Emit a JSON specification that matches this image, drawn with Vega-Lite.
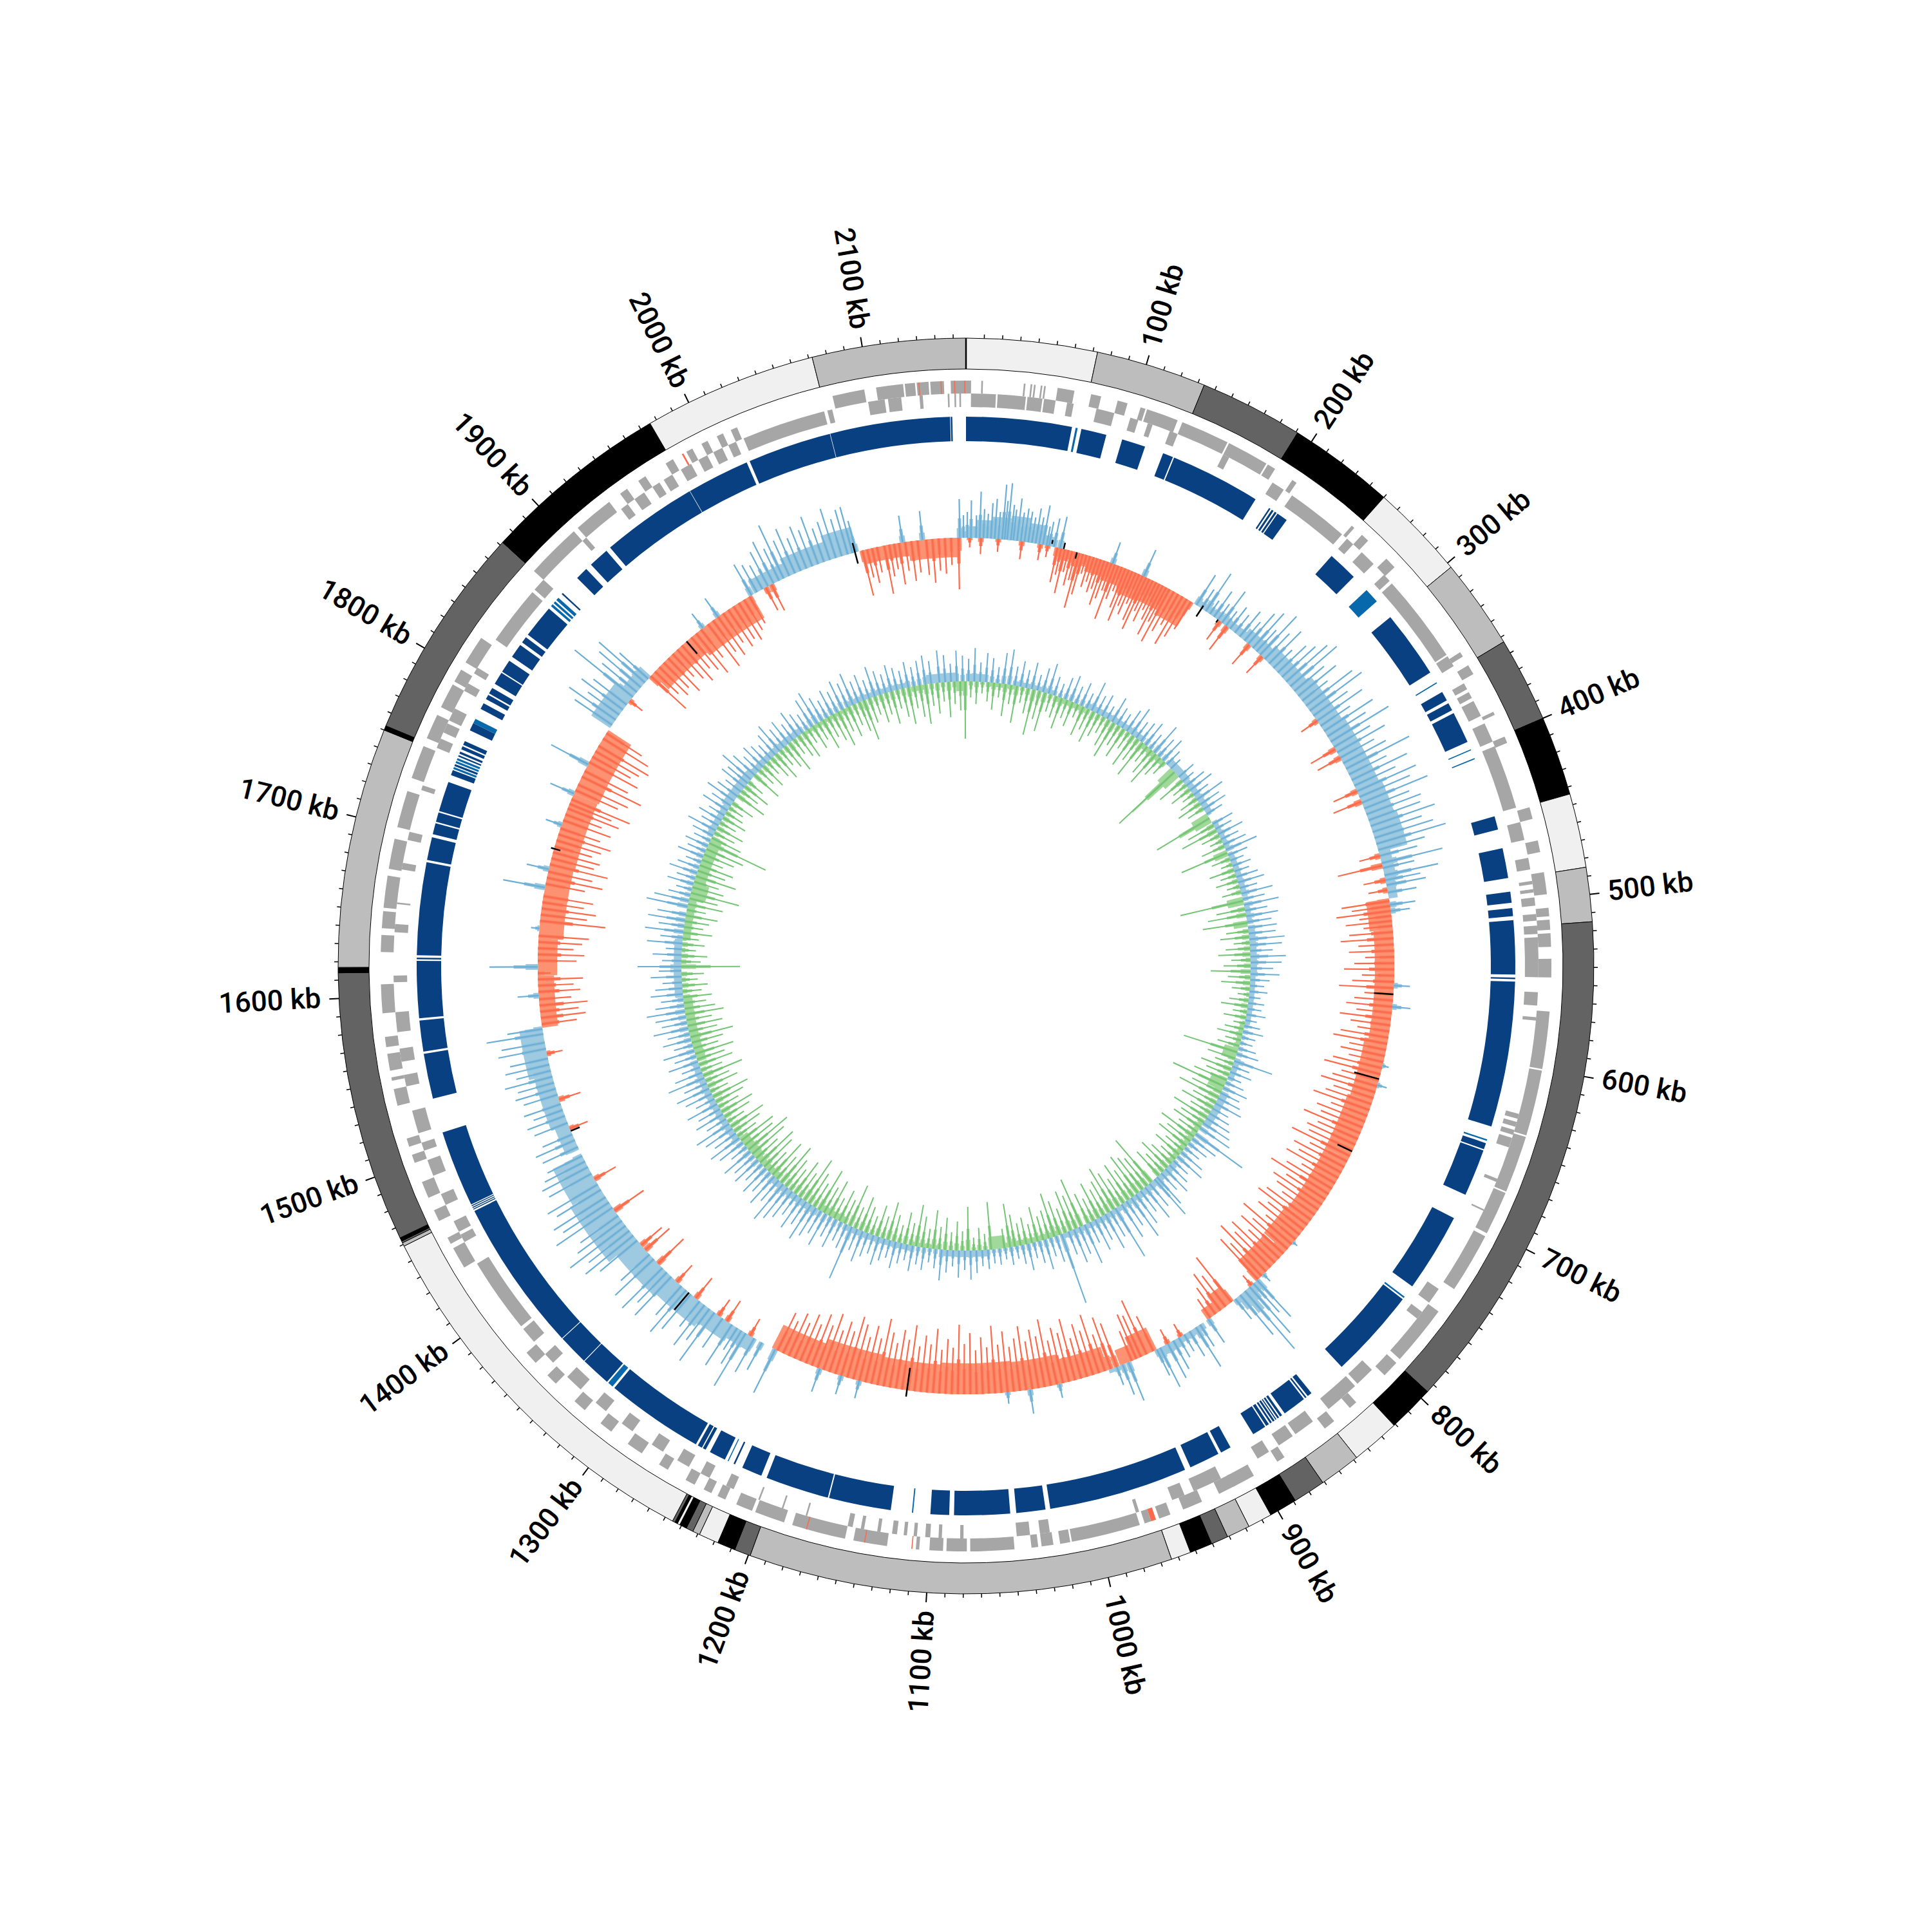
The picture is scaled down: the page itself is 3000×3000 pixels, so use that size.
{"$schema":"https://vega.github.io/schema/vega-lite/v6.json","autosize":{"type":"fit","contains":"padding"},"width":3000,"height":3000,"padding":0,"background":"white","view":{"stroke":null},
"datasets":{
"bands":[{"s":0,"e":72.5,"b":"l"},{"s":72.5,"e":133.6,"b":"m"},{"s":133.6,"e":191,"b":"d"},{"s":191,"e":250,"b":"k"},{"s":250,"e":303,"b":"l"},{"s":303,"e":353,"b":"m"},{"s":353,"e":400,"b":"d"},{"s":400,"e":444,"b":"k"},{"s":444,"e":485,"b":"l"},{"s":485,"e":515,"b":"m"},{"s":515,"e":795,"b":"d"},{"s":795,"e":821,"b":"k"},{"s":821,"e":848,"b":"l"},{"s":848,"e":871,"b":"m"},{"s":871,"e":889,"b":"d"},{"s":889,"e":904.5,"b":"k"},{"s":904.5,"e":918,"b":"l"},{"s":918,"e":931,"b":"m"},{"s":931,"e":940.5,"b":"d"},{"s":940.5,"e":953,"b":"k"},{"s":953,"e":964,"b":"l"},{"s":964,"e":1199,"b":"m"},{"s":1199,"e":1208,"b":"d"},{"s":1208,"e":1218,"b":"k"},{"s":1218,"e":1229,"b":"l"},{"s":1229,"e":1233,"b":"m"},{"s":1233,"e":1237,"b":"d"},{"s":1237,"e":1241,"b":"k"},{"s":1241,"e":1242.5,"b":"l"},{"s":1242.5,"e":1244,"b":"k"},{"s":1244,"e":1245.5,"b":"d"},{"s":1245.5,"e":1459,"b":"l"},{"s":1459,"e":1461,"b":"m"},{"s":1461,"e":1462,"b":"d"},{"s":1462,"e":1464,"b":"k"},{"s":1464,"e":1614,"b":"d"},{"s":1614,"e":1617,"b":"k"},{"s":1617,"e":1750,"b":"m"},{"s":1750,"e":1752.5,"b":"k"},{"s":1752.5,"e":1872,"b":"d"},{"s":1872,"e":1976,"b":"k"},{"s":1976,"e":2072,"b":"l"},{"s":2072,"e":2157,"b":"m"}],
"zero":[{"s":0}],
"minor":[{"s":10},{"s":20},{"s":30},{"s":40},{"s":50},{"s":60},{"s":70},{"s":80},{"s":90},{"s":110},{"s":120},{"s":130},{"s":140},{"s":150},{"s":160},{"s":170},{"s":180},{"s":190},{"s":210},{"s":220},{"s":230},{"s":240},{"s":250},{"s":260},{"s":270},{"s":280},{"s":290},{"s":310},{"s":320},{"s":330},{"s":340},{"s":350},{"s":360},{"s":370},{"s":380},{"s":390},{"s":410},{"s":420},{"s":430},{"s":440},{"s":450},{"s":460},{"s":470},{"s":480},{"s":490},{"s":510},{"s":520},{"s":530},{"s":540},{"s":550},{"s":560},{"s":570},{"s":580},{"s":590},{"s":610},{"s":620},{"s":630},{"s":640},{"s":650},{"s":660},{"s":670},{"s":680},{"s":690},{"s":710},{"s":720},{"s":730},{"s":740},{"s":750},{"s":760},{"s":770},{"s":780},{"s":790},{"s":810},{"s":820},{"s":830},{"s":840},{"s":850},{"s":860},{"s":870},{"s":880},{"s":890},{"s":910},{"s":920},{"s":930},{"s":940},{"s":950},{"s":960},{"s":970},{"s":980},{"s":990},{"s":1010},{"s":1020},{"s":1030},{"s":1040},{"s":1050},{"s":1060},{"s":1070},{"s":1080},{"s":1090},{"s":1110},{"s":1120},{"s":1130},{"s":1140},{"s":1150},{"s":1160},{"s":1170},{"s":1180},{"s":1190},{"s":1210},{"s":1220},{"s":1230},{"s":1240},{"s":1250},{"s":1260},{"s":1270},{"s":1280},{"s":1290},{"s":1310},{"s":1320},{"s":1330},{"s":1340},{"s":1350},{"s":1360},{"s":1370},{"s":1380},{"s":1390},{"s":1410},{"s":1420},{"s":1430},{"s":1440},{"s":1450},{"s":1460},{"s":1470},{"s":1480},{"s":1490},{"s":1510},{"s":1520},{"s":1530},{"s":1540},{"s":1550},{"s":1560},{"s":1570},{"s":1580},{"s":1590},{"s":1610},{"s":1620},{"s":1630},{"s":1640},{"s":1650},{"s":1660},{"s":1670},{"s":1680},{"s":1690},{"s":1710},{"s":1720},{"s":1730},{"s":1740},{"s":1750},{"s":1760},{"s":1770},{"s":1780},{"s":1790},{"s":1810},{"s":1820},{"s":1830},{"s":1840},{"s":1850},{"s":1860},{"s":1870},{"s":1880},{"s":1890},{"s":1910},{"s":1920},{"s":1930},{"s":1940},{"s":1950},{"s":1960},{"s":1970},{"s":1980},{"s":1990},{"s":2010},{"s":2020},{"s":2030},{"s":2040},{"s":2050},{"s":2060},{"s":2070},{"s":2080},{"s":2090},{"s":2110},{"s":2120},{"s":2130},{"s":2140},{"s":2150}],
"labelsR":[{"s":100,"t":"100 kb"},{"s":200,"t":"200 kb"},{"s":300,"t":"300 kb"},{"s":400,"t":"400 kb"},{"s":500,"t":"500 kb"},{"s":600,"t":"600 kb"},{"s":700,"t":"700 kb"},{"s":800,"t":"800 kb"},{"s":900,"t":"900 kb"},{"s":1000,"t":"1000 kb"}],
"labelsL":[{"s":1100,"t":"1100 kb"},{"s":1200,"t":"1200 kb"},{"s":1300,"t":"1300 kb"},{"s":1400,"t":"1400 kb"},{"s":1500,"t":"1500 kb"},{"s":1600,"t":"1600 kb"},{"s":1700,"t":"1700 kb"},{"s":1800,"t":"1800 kb"},{"s":1900,"t":"1900 kb"},{"s":2000,"t":"2000 kb"},{"s":2100,"t":"2100 kb"}],
"geneO":[{"s":2104,"e":2120},{"s":2121,"e":2127},{"s":2128,"e":2135},{"s":2136,"e":2144},{"s":2148,"e":2157},{"s":0,"e":3},{"s":9,"e":10},{"s":34,"e":35},{"s":38,"e":39},{"s":40,"e":41},{"s":44,"e":45},{"s":46,"e":47},{"s":54,"e":64},{"s":74,"e":80},{"s":90,"e":96},{"s":104,"e":107},{"s":108,"e":127},{"s":130,"e":159},{"s":160,"e":185},{"s":186,"e":191},{"s":203,"e":206},{"s":247,"e":249},{"s":255,"e":260},{"s":275,"e":282},{"s":345,"e":348},{"s":354,"e":360},{"s":385,"e":387},{"s":401,"e":405},{"s":445,"e":452},{"s":465,"e":472},{"s":484,"e":497},{"s":505,"e":510},{"s":512,"e":518},{"s":520,"e":528},{"s":535,"e":546},{"s":566,"e":600},{"s":601,"e":640},{"s":641,"e":675},{"s":676,"e":702},{"s":704,"e":740},{"s":756,"e":792},{"s":795,"e":805},{"s":828,"e":833},{"s":845,"e":852},{"s":881,"e":886},{"s":902,"e":916},{"s":914,"e":925},{"s":936,"e":948},{"s":956,"e":963},{"s":968,"e":972},{"s":975,"e":1016},{"s":1017,"e":1023},{"s":1027,"e":1034},{"s":1036,"e":1040},{"s":1050,"e":1076},{"s":1078,"e":1090},{"s":1092,"e":1100},{"s":1106,"e":1108},{"s":1125,"e":1145},{"s":1150,"e":1182},{"s":1187,"e":1205},{"s":1207,"e":1217},{"s":1224,"e":1229},{"s":1233,"e":1238},{"s":1244,"e":1250},{"s":1262,"e":1268},{"s":1280,"e":1290},{"s":1302,"e":1310},{"s":1322,"e":1330},{"s":1345,"e":1352},{"s":1362,"e":1370},{"s":1432,"e":1445},{"s":1448,"e":1452},{"s":1463,"e":1470},{"s":1478,"e":1488},{"s":1500,"e":1505},{"s":1510,"e":1515},{"s":1535,"e":1545},{"s":1550,"e":1552},{"s":1556,"e":1566},{"s":1570,"e":1576},{"s":1590,"e":1607},{"s":1626,"e":1636},{"s":1640,"e":1650},{"s":1652,"e":1671},{"s":1675,"e":1693},{"s":1700,"e":1722},{"s":1730,"e":1750},{"s":1755,"e":1770},{"s":1775,"e":1790},{"s":1792,"e":1800},{"s":1805,"e":1822},{"s":1872,"e":1905},{"s":1908,"e":1932},{"s":1940,"e":1945},{"s":1953,"e":1958},{"s":1972,"e":1977},{"s":1986,"e":1990},{"s":1996,"e":2000},{"s":2006,"e":2010},{"s":2015,"e":2019},{"s":2078,"e":2097}],
"geneI":[{"s":3,"e":18},{"s":19,"e":36},{"s":37,"e":46},{"s":47,"e":54},{"s":61,"e":65},{"s":79,"e":90},{"s":100,"e":105},{"s":111,"e":114},{"s":125,"e":130},{"s":160,"e":164},{"s":194,"e":202},{"s":208,"e":246},{"s":250,"e":255},{"s":262,"e":272},{"s":281,"e":286},{"s":288,"e":342},{"s":343,"e":350},{"s":362,"e":366},{"s":368,"e":372},{"s":374,"e":384},{"s":389,"e":401},{"s":404,"e":443},{"s":452,"e":463},{"s":474,"e":481},{"s":488,"e":490},{"s":493,"e":495},{"s":498,"e":503},{"s":508,"e":512},{"s":515,"e":520},{"s":522,"e":546},{"s":555,"e":563},{"s":570,"e":572},{"s":629,"e":632},{"s":634,"e":637},{"s":639,"e":642},{"s":644,"e":650},{"s":670,"e":672},{"s":690,"e":691},{"s":745,"e":755},{"s":762,"e":767},{"s":808,"e":820},{"s":822,"e":843},{"s":855,"e":868},{"s":870,"e":880},{"s":887,"e":895},{"s":920,"e":938},{"s":944,"e":952},{"s":973,"e":975},{"s":1028,"e":1034},{"s":1040,"e":1048},{"s":1080,"e":1082},{"s":1093,"e":1095},{"s":1100,"e":1103},{"s":1108,"e":1110},{"s":1114,"e":1116},{"s":1120,"e":1123},{"s":1130,"e":1132},{"s":1140,"e":1142},{"s":1147,"e":1150},{"s":1175,"e":1176},{"s":1190,"e":1191},{"s":1205,"e":1206},{"s":1222,"e":1227},{"s":1238,"e":1244},{"s":1252,"e":1260},{"s":1270,"e":1278},{"s":1292,"e":1300},{"s":1312,"e":1320},{"s":1332,"e":1343},{"s":1355,"e":1362},{"s":1372,"e":1382},{"s":1384,"e":1430},{"s":1445,"e":1450},{"s":1452,"e":1459},{"s":1470,"e":1477},{"s":1489,"e":1499},{"s":1505,"e":1510},{"s":1516,"e":1530},{"s":1545,"e":1552},{"s":1560,"e":1568},{"s":1578,"e":1590},{"s":1608,"e":1612},{"s":1638,"e":1643},{"s":1655,"e":1656},{"s":1676,"e":1680},{"s":1694,"e":1699},{"s":1725,"e":1728},{"s":1752,"e":1758},{"s":1762,"e":1768},{"s":1770,"e":1778},{"s":1790,"e":1795},{"s":1802,"e":1806},{"s":1826,"e":1862},{"s":1864,"e":1872},{"s":1905,"e":1908},{"s":1935,"e":1940},{"s":1945,"e":1952},{"s":1958,"e":1963},{"s":1966,"e":1972},{"s":1978,"e":1985},{"s":1990,"e":1996},{"s":2000,"e":2006},{"s":2010,"e":2015},{"s":2020,"e":2071},{"s":2073,"e":2076},{"s":2098,"e":2108},{"s":2110,"e":2118},{"s":2129,"e":2131},{"s":2146,"e":2147},{"s":2150,"e":2151},{"s":2153,"e":2154}],
"geneR":[{"s":965,"e":968},{"s":2129,"e":2129.6},{"s":2142,"e":2142.6},{"s":2150,"e":2150.6},{"s":2156,"e":2156.6},{"s":1983,"e":1984},{"s":1173,"e":1173.6},{"s":1138,"e":1138.6},{"s":1110,"e":1110.6}],
"blocks":[{"s":0,"e":66.7,"c":"a"},{"s":69,"e":70.3,"c":"b"},{"s":72.7,"e":88.7,"c":"a"},{"s":99,"e":114,"c":"a"},{"s":126,"e":132.6,"c":"a"},{"s":133.4,"e":190.6,"c":"a"},{"s":200.7,"e":201.7,"c":"a"},{"s":202.7,"e":204,"c":"a"},{"s":205,"e":206.3,"c":"a"},{"s":207,"e":214,"c":"a"},{"s":250,"e":269,"c":"a"},{"s":280.5,"e":290,"c":"b"},{"s":303,"e":345.7,"c":"a"},{"s":353,"e":353.7,"c":"b"},{"s":360,"e":366,"c":"a"},{"s":368,"e":373,"c":"a"},{"s":375,"e":395,"c":"a"},{"s":400,"e":400.7,"c":"b"},{"s":406,"e":406.7,"c":"b"},{"s":444.5,"e":453,"c":"a"},{"s":465,"e":484,"c":"a"},{"s":492.6,"e":499.6,"c":"a"},{"s":503,"e":508,"c":"a"},{"s":510.5,"e":544.6,"c":"a"},{"s":546.5,"e":547.5,"c":"a"},{"s":549,"e":641,"c":"a"},{"s":649.5,"e":650.5,"c":"b"},{"s":652,"e":656,"c":"a"},{"s":656.8,"e":686.7,"c":"a"},{"s":703,"e":753,"c":"a"},{"s":761,"e":762,"c":"b"},{"s":763,"e":820,"c":"a"},{"s":845,"e":848,"c":"a"},{"s":849,"e":850,"c":"a"},{"s":851,"e":866,"c":"a"},{"s":868,"e":869.5,"c":"a"},{"s":870.3,"e":871.5,"c":"a"},{"s":872.3,"e":873,"c":"a"},{"s":873.7,"e":875,"c":"a"},{"s":875.8,"e":877,"c":"a"},{"s":878,"e":880,"c":"a"},{"s":880.8,"e":889.6,"c":"a"},{"s":906,"e":912.7,"c":"a"},{"s":914.6,"e":934,"c":"a"},{"s":937.7,"e":1025.6,"c":"a"},{"s":1028.6,"e":1047,"c":"a"},{"s":1050.8,"e":1086,"c":"a"},{"s":1089,"e":1100.8,"c":"a"},{"s":1111.6,"e":1112.4,"c":"b"},{"s":1125.7,"e":1165,"c":"a"},{"s":1165.8,"e":1206,"c":"a"},{"s":1209.6,"e":1222.5,"c":"a"},{"s":1227.5,"e":1228.5,"c":"a"},{"s":1232,"e":1232.6,"c":"b"},{"s":1234.5,"e":1245,"c":"a"},{"s":1248,"e":1250,"c":"a"},{"s":1250.7,"e":1253.6,"c":"a"},{"s":1255,"e":1317,"c":"a"},{"s":1318.5,"e":1322,"c":"b"},{"s":1323,"e":1342,"c":"a"},{"s":1342.5,"e":1361.7,"c":"a"},{"s":1362.2,"e":1459,"c":"a"},{"s":1460,"e":1460.6,"c":"a"},{"s":1461.2,"e":1461.8,"c":"a"},{"s":1462.4,"e":1463,"c":"a"},{"s":1463.6,"e":1512,"c":"a"},{"s":1534,"e":1562.6,"c":"a"},{"s":1564,"e":1583.6,"c":"a"},{"s":1585,"e":1621,"c":"a"},{"s":1622,"e":1623,"c":"a"},{"s":1624.5,"e":1683,"c":"a"},{"s":1684.5,"e":1699,"c":"a"},{"s":1701,"e":1708,"c":"a"},{"s":1709,"e":1715,"c":"a"},{"s":1716,"e":1735,"c":"a"},{"s":1739.6,"e":1743,"c":"a"},{"s":1743.7,"e":1745,"c":"b"},{"s":1745.7,"e":1747,"c":"a"},{"s":1747.7,"e":1749,"c":"b"},{"s":1749.7,"e":1751,"c":"b"},{"s":1752,"e":1753,"c":"a"},{"s":1754,"e":1755.4,"c":"a"},{"s":1757,"e":1759,"c":"a"},{"s":1760,"e":1762.6,"c":"a"},{"s":1770,"e":1775,"c":"a"},{"s":1775,"e":1778,"c":"b"},{"s":1785,"e":1789,"c":"a"},{"s":1792,"e":1795,"c":"a"},{"s":1796,"e":1800,"c":"a"},{"s":1803,"e":1811,"c":"a"},{"s":1811.8,"e":1820,"c":"a"},{"s":1823,"e":1832,"c":"a"},{"s":1834,"e":1838,"c":"a"},{"s":1840,"e":1861,"c":"a"},{"s":1863,"e":1864.5,"c":"b"},{"s":1865.5,"e":1867,"c":"b"},{"s":1868,"e":1870,"c":"b"},{"s":1873,"e":1874,"c":"a"},{"s":1887,"e":1895,"c":"a"},{"s":1899,"e":1912,"c":"a"},{"s":1915,"e":1976,"c":"a"},{"s":1976.3,"e":2016,"c":"a"},{"s":2018,"e":2071,"c":"a"},{"s":2071.3,"e":2147,"c":"a"},{"s":2147.4,"e":2148.4,"c":"a"}],
"oBody":[{"s":0,"e":8,"v":18},{"s":8,"e":20,"v":28},{"s":20,"e":35,"v":34},{"s":35,"e":50,"v":38},{"s":50,"e":62,"v":30},{"s":62,"e":70,"v":15},{"s":2153,"e":2157,"v":8},{"s":73,"e":85,"v":-12},{"s":85,"e":100,"v":-18},{"s":100,"e":115,"v":-25},{"s":115,"e":130,"v":-30},{"s":130,"e":150,"v":-40},{"s":150,"e":170,"v":-38},{"s":170,"e":191,"v":-45},{"s":193,"e":212,"v":10},{"s":212,"e":240,"v":12},{"s":240,"e":265,"v":20},{"s":265,"e":300,"v":26},{"s":300,"e":340,"v":34},{"s":341,"e":395,"v":38},{"s":395,"e":420,"v":42},{"s":420,"e":447,"v":46},{"s":447,"e":470,"v":18},{"s":470,"e":485,"v":14},{"s":485,"e":510,"v":-36},{"s":510,"e":545,"v":-30},{"s":545,"e":600,"v":-30},{"s":600,"e":650,"v":-36},{"s":650,"e":700,"v":-40},{"s":700,"e":760,"v":-40},{"s":760,"e":790,"v":-44},{"s":791,"e":822,"v":-42},{"s":826,"e":832,"v":12},{"s":832,"e":838,"v":40},{"s":838,"e":843,"v":25},{"s":850,"e":862,"v":-30},{"s":862,"e":873,"v":-18},{"s":877,"e":900,"v":10},{"s":900,"e":920,"v":14},{"s":920,"e":940,"v":-38},{"s":940,"e":952,"v":-25},{"s":952,"e":962,"v":6},{"s":962,"e":1000,"v":-38},{"s":1000,"e":1040,"v":-46},{"s":1040,"e":1100,"v":-48},{"s":1100,"e":1150,"v":-45},{"s":1150,"e":1200,"v":-48},{"s":1200,"e":1240,"v":-40},{"s":1254,"e":1275,"v":22},{"s":1275,"e":1300,"v":28},{"s":1300,"e":1340,"v":36},{"s":1340,"e":1380,"v":40},{"s":1380,"e":1430,"v":55},{"s":1430,"e":1461,"v":50},{"s":1466,"e":1490,"v":22},{"s":1490,"e":1530,"v":28},{"s":1530,"e":1568,"v":36},{"s":1568,"e":1610,"v":-25},{"s":1610,"e":1640,"v":-30},{"s":1640,"e":1700,"v":-38},{"s":1700,"e":1760,"v":-40},{"s":1760,"e":1818,"v":-42},{"s":1820,"e":1850,"v":35},{"s":1850,"e":1873,"v":22},{"s":1875,"e":1920,"v":-34},{"s":1920,"e":1977,"v":-40},{"s":1980,"e":2010,"v":22},{"s":2010,"e":2045,"v":30},{"s":2045,"e":2069,"v":40},{"s":2073,"e":2110,"v":-22},{"s":2110,"e":2152,"v":-30}],
"oSpike":[{"s":1,"v":40},{"s":4,"v":58},{"s":8,"v":35},{"s":11,"v":72},{"s":14,"v":45},{"s":17,"v":38},{"s":20,"v":55},{"s":23,"v":62},{"s":26,"v":42},{"s":29,"v":85},{"s":31,"v":60},{"s":33,"v":88},{"s":36,"v":55},{"s":38,"v":48},{"s":41,"v":66},{"s":44,"v":45},{"s":47,"v":52},{"s":50,"v":48},{"s":53,"v":40},{"s":56,"v":55},{"s":59,"v":42},{"s":62,"v":62},{"s":65,"v":30},{"s":67,"v":38},{"s":71,"v":45},{"s":76,"v":50},{"s":3,"v":-15},{"s":12,"v":-25},{"s":26,"v":-20},{"s":45,"v":-28},{"s":60,"v":-25},{"s":66,"v":-18},{"s":74,"v":-55},{"s":77,"v":-42},{"s":80,"v":-70},{"s":83,"v":-35},{"s":86,"v":-55},{"s":89,"v":-45},{"s":92,"v":-88},{"s":95,"v":-65},{"s":98,"v":-30},{"s":101,"v":-50},{"s":104,"v":-40},{"s":107,"v":-55},{"s":110,"v":-48},{"s":113,"v":-72},{"s":116,"v":-60},{"s":119,"v":-45},{"s":122,"v":-90},{"s":125,"v":-55},{"s":128,"v":-40},{"s":131,"v":-65},{"s":134,"v":-85},{"s":137,"v":-58},{"s":140,"v":-70},{"s":143,"v":-50},{"s":146,"v":-75},{"s":149,"v":-88},{"s":152,"v":-55},{"s":155,"v":-70},{"s":158,"v":-48},{"s":161,"v":-62},{"s":164,"v":-85},{"s":167,"v":-60},{"s":170,"v":-92},{"s":174,"v":-70},{"s":178,"v":-55},{"s":182,"v":-85},{"s":186,"v":-68},{"s":190,"v":-50},{"s":147,"v":45},{"s":120,"v":35},{"s":195,"v":55},{"s":200,"v":35},{"s":204,"v":70},{"s":208,"v":25},{"s":212,"v":48},{"s":216,"v":30},{"s":220,"v":60},{"s":224,"v":28},{"s":228,"v":42},{"s":233,"v":35},{"s":238,"v":50},{"s":243,"v":38},{"s":247,"v":62},{"s":252,"v":72},{"s":256,"v":45},{"s":260,"v":82},{"s":265,"v":55},{"s":270,"v":70},{"s":275,"v":40},{"s":280,"v":60},{"s":285,"v":70},{"s":290,"v":85},{"s":295,"v":95},{"s":300,"v":60},{"s":305,"v":75},{"s":310,"v":50},{"s":315,"v":90},{"s":320,"v":100},{"s":325,"v":65},{"s":330,"v":85},{"s":335,"v":55},{"s":340,"v":90},{"s":345,"v":70},{"s":350,"v":105},{"s":355,"v":65},{"s":360,"v":85},{"s":365,"v":60},{"s":370,"v":75},{"s":375,"v":110},{"s":380,"v":65},{"s":385,"v":95},{"s":390,"v":70},{"s":395,"v":100},{"s":400,"v":85},{"s":405,"v":110},{"s":410,"v":75},{"s":415,"v":90},{"s":420,"v":85},{"s":425,"v":105},{"s":430,"v":80},{"s":435,"v":95},{"s":440,"v":112},{"s":445,"v":75},{"s":450,"v":60},{"s":456,"v":97},{"s":460,"v":50},{"s":466,"v":85},{"s":470,"v":55},{"s":474,"v":62},{"s":480,"v":45},{"s":490,"v":40},{"s":495,"v":30},{"s":218,"v":-35},{"s":225,"v":-45},{"s":248,"v":-40},{"s":262,"v":-35},{"s":330,"v":-30},{"s":357,"v":-44},{"s":365,"v":-40},{"s":395,"v":-40},{"s":404,"v":-47},{"s":450,"v":-33},{"s":458,"v":-71},{"s":470,"v":-35},{"s":478,"v":-30},{"s":487,"v":-75},{"s":491,"v":-60},{"s":495,"v":-85},{"s":499,"v":-50},{"s":503,"v":-72},{"s":507,"v":-45},{"s":512,"v":-68},{"s":517,"v":-82},{"s":522,"v":-55},{"s":527,"v":-70},{"s":532,"v":-45},{"s":537,"v":-62},{"s":542,"v":-78},{"s":547,"v":-50},{"s":552,"v":-65},{"s":557,"v":-85},{"s":562,"v":-45},{"s":567,"v":-60},{"s":572,"v":-72},{"s":577,"v":-55},{"s":582,"v":-80},{"s":587,"v":-62},{"s":592,"v":-50},{"s":597,"v":-75},{"s":602,"v":-85},{"s":607,"v":-58},{"s":612,"v":-70},{"s":617,"v":-55},{"s":622,"v":-78},{"s":627,"v":-90},{"s":632,"v":-60},{"s":637,"v":-72},{"s":642,"v":-88},{"s":647,"v":-65},{"s":652,"v":-75},{"s":657,"v":-92},{"s":662,"v":-60},{"s":667,"v":-80},{"s":672,"v":-70},{"s":677,"v":-95},{"s":682,"v":-68},{"s":687,"v":-82},{"s":692,"v":-75},{"s":697,"v":-100},{"s":702,"v":-65},{"s":707,"v":-88},{"s":712,"v":-75},{"s":717,"v":-92},{"s":722,"v":-60},{"s":727,"v":-82},{"s":732,"v":-105},{"s":737,"v":-72},{"s":742,"v":-90},{"s":747,"v":-78},{"s":752,"v":-62},{"s":757,"v":-85},{"s":762,"v":-95},{"s":767,"v":-70},{"s":772,"v":-82},{"s":777,"v":-60},{"s":782,"v":-98},{"s":787,"v":-72},{"s":792,"v":-88},{"s":797,"v":-65},{"s":802,"v":-92},{"s":807,"v":-78},{"s":812,"v":-100},{"s":817,"v":-70},{"s":821,"v":-85},{"s":555,"v":25},{"s":572,"v":28},{"s":620,"v":10},{"s":636,"v":15},{"s":780,"v":8},{"s":815,"v":15},{"s":822,"v":77},{"s":826,"v":60},{"s":830,"v":95},{"s":835,"v":118},{"s":840,"v":80},{"s":845,"v":40},{"s":828,"v":-20},{"s":849,"v":-88},{"s":855,"v":-60},{"s":860,"v":-70},{"s":865,"v":-50},{"s":870,"v":-35},{"s":872,"v":44},{"s":880,"v":40},{"s":884,"v":72},{"s":890,"v":45},{"s":895,"v":30},{"s":900,"v":35},{"s":905,"v":50},{"s":910,"v":60},{"s":917,"v":68},{"s":920,"v":45},{"s":898,"v":-22},{"s":910,"v":-25},{"s":923,"v":-60},{"s":929,"v":-92},{"s":934,"v":-70},{"s":938,"v":-75},{"s":942,"v":-50},{"s":945,"v":64},{"s":950,"v":50},{"s":955,"v":30},{"s":955,"v":-72},{"s":960,"v":-85},{"s":965,"v":-60},{"s":970,"v":-95},{"s":975,"v":-72},{"s":980,"v":-85},{"s":985,"v":-65},{"s":990,"v":-98},{"s":995,"v":-78},{"s":1000,"v":-88},{"s":1003,"v":22},{"s":1005,"v":-70},{"s":1010,"v":-105},{"s":1015,"v":-80},{"s":1020,"v":-92},{"s":1025,"v":-75},{"s":1027,"v":38},{"s":1030,"v":-100},{"s":1035,"v":-82},{"s":1040,"v":-70},{"s":1045,"v":18},{"s":1045,"v":-95},{"s":1050,"v":-75},{"s":1055,"v":-105},{"s":1060,"v":-72},{"s":1065,"v":-88},{"s":1070,"v":-68},{"s":1075,"v":-95},{"s":1080,"v":-78},{"s":1085,"v":-108},{"s":1090,"v":-72},{"s":1095,"v":-85},{"s":1100,"v":-68},{"s":1105,"v":-100},{"s":1110,"v":-75},{"s":1115,"v":-88},{"s":1120,"v":-70},{"s":1125,"v":-102},{"s":1130,"v":-78},{"s":1135,"v":-92},{"s":1140,"v":-70},{"s":1145,"v":-85},{"s":1150,"v":-105},{"s":1155,"v":-72},{"s":1160,"v":-90},{"s":1165,"v":-70},{"s":1170,"v":-88},{"s":1175,"v":-98},{"s":1180,"v":-72},{"s":1185,"v":-85},{"s":1190,"v":-68},{"s":1195,"v":-92},{"s":1200,"v":-70},{"s":1205,"v":-85},{"s":1210,"v":-65},{"s":1215,"v":-78},{"s":1220,"v":-60},{"s":1225,"v":-72},{"s":1230,"v":-55},{"s":1235,"v":-65},{"s":1180,"v":30},{"s":1165,"v":28},{"s":1198,"v":38},{"s":1237,"v":75},{"s":1249,"v":48},{"s":1256,"v":60},{"s":1260,"v":-30},{"s":1264,"v":95},{"s":1268,"v":60},{"s":1272,"v":40},{"s":1277,"v":75},{"s":1282,"v":-38},{"s":1286,"v":55},{"s":1290,"v":-30},{"s":1294,"v":92},{"s":1299,"v":60},{"s":1304,"v":78},{"s":1309,"v":50},{"s":1313,"v":-40},{"s":1318,"v":70},{"s":1323,"v":85},{"s":1328,"v":60},{"s":1333,"v":-35},{"s":1339,"v":82},{"s":1344,"v":65},{"s":1349,"v":88},{"s":1354,"v":-55},{"s":1359,"v":82},{"s":1364,"v":60},{"s":1369,"v":-50},{"s":1374,"v":-42},{"s":1379,"v":75},{"s":1384,"v":95},{"s":1389,"v":80},{"s":1394,"v":108},{"s":1399,"v":85},{"s":1404,"v":72},{"s":1409,"v":-55},{"s":1412,"v":105},{"s":1417,"v":85},{"s":1422,"v":95},{"s":1429,"v":80},{"s":1434,"v":90},{"s":1439,"v":-38},{"s":1444,"v":75},{"s":1450,"v":80},{"s":1455,"v":70},{"s":1460,"v":60},{"s":1468,"v":60},{"s":1474,"v":66},{"s":1479,"v":50},{"s":1484,"v":-30},{"s":1489,"v":55},{"s":1495,"v":62},{"s":1500,"v":48},{"s":1505,"v":60},{"s":1509,"v":-35},{"s":1513,"v":55},{"s":1518,"v":65},{"s":1523,"v":58},{"s":1528,"v":76},{"s":1533,"v":55},{"s":1538,"v":70},{"s":1543,"v":60},{"s":1547,"v":-25},{"s":1551,"v":75},{"s":1556,"v":68},{"s":1563,"v":89},{"s":1567,"v":55},{"s":1571,"v":-55},{"s":1576,"v":-70},{"s":1581,"v":-60},{"s":1586,"v":-75},{"s":1591,"v":-50},{"s":1594,"v":33},{"s":1597,"v":-65},{"s":1602,"v":-55},{"s":1607,"v":-70},{"s":1612,"v":-20},{"s":1617,"v":75},{"s":1622,"v":-60},{"s":1627,"v":-72},{"s":1632,"v":-55},{"s":1637,"v":-68},{"s":1642,"v":-78},{"s":1648,"v":13},{"s":1654,"v":-102},{"s":1659,"v":-72},{"s":1664,"v":-85},{"s":1669,"v":-65},{"s":1674,"v":-78},{"s":1681,"v":66},{"s":1684,"v":-62},{"s":1689,"v":-88},{"s":1694,"v":-70},{"s":1696,"v":35},{"s":1700,"v":-92},{"s":1705,"v":-68},{"s":1710,"v":-75},{"s":1715,"v":-60},{"s":1720,"v":-72},{"s":1725,"v":-85},{"s":1730,"v":-65},{"s":1733,"v":26},{"s":1737,"v":-78},{"s":1742,"v":-60},{"s":1747,"v":-85},{"s":1751,"v":-70},{"s":1755,"v":-98},{"s":1760,"v":40},{"s":1763,"v":-72},{"s":1768,"v":-85},{"s":1775,"v":-102},{"s":1780,"v":-75},{"s":1786,"v":65},{"s":1788,"v":-85},{"s":1793,"v":-68},{"s":1798,"v":-78},{"s":1803,"v":-90},{"s":1810,"v":-82},{"s":1815,"v":-65},{"s":1823,"v":70},{"s":1828,"v":88},{"s":1833,"v":60},{"s":1838,"v":80},{"s":1843,"v":65},{"s":1847,"v":-25},{"s":1851,"v":116},{"s":1856,"v":70},{"s":1861,"v":85},{"s":1866,"v":95},{"s":1870,"v":60},{"s":1873,"v":-74},{"s":1878,"v":-50},{"s":1883,"v":-62},{"s":1888,"v":-55},{"s":1893,"v":-70},{"s":1898,"v":-48},{"s":1903,"v":-60},{"s":1908,"v":-72},{"s":1913,"v":-55},{"s":1918,"v":-65},{"s":1923,"v":-78},{"s":1928,"v":-55},{"s":1935,"v":-81},{"s":1940,"v":-60},{"s":1945,"v":-72},{"s":1950,"v":-55},{"s":1955,"v":-68},{"s":1960,"v":-60},{"s":1965,"v":-67},{"s":1970,"v":-55},{"s":1975,"v":-48},{"s":1945,"v":35},{"s":1930,"v":28},{"s":1977,"v":55},{"s":1982,"v":48},{"s":1987,"v":42},{"s":1990,"v":-40},{"s":1992,"v":60},{"s":1995,"v":-45},{"s":1997,"v":72},{"s":2002,"v":55},{"s":2006,"v":91},{"s":2011,"v":60},{"s":2016,"v":75},{"s":2021,"v":55},{"s":2026,"v":70},{"s":2031,"v":60},{"s":2036,"v":78},{"s":2041,"v":55},{"s":2046,"v":62},{"s":2051,"v":80},{"s":2056,"v":60},{"s":2061,"v":72},{"s":2065,"v":74},{"s":2068,"v":50},{"s":2073,"v":-72},{"s":2077,"v":-45},{"s":2081,"v":-55},{"s":2085,"v":-40},{"s":2091,"v":-76},{"s":2095,"v":-50},{"s":2099,"v":-40},{"s":2103,"v":-65},{"s":2106,"v":42},{"s":2108,"v":-45},{"s":2113,"v":-62},{"s":2118,"v":-50},{"s":2122,"v":45},{"s":2125,"v":-55},{"s":2130,"v":-68},{"s":2135,"v":-50},{"s":2140,"v":-55},{"s":2145,"v":-42},{"s":2151,"v":-80},{"s":2152,"v":60},{"s":2155,"v":35}],
"oBlack":[{"s":562,"v":-30,"w":0},{"s":631,"v":-40,"w":0},{"s":693,"v":-25,"w":0},{"s":1126,"v":-35,"w":10},{"s":1320,"v":35,"w":0},{"s":1482,"v":-15,"w":0},{"s":1713,"v":-10,"w":5},{"s":1913,"v":-25,"w":0},{"s":2067,"v":-18,"w":15},{"s":79,"v":0,"w":10},{"s":90,"v":-10,"w":0},{"s":69,"v":4,"w":10},{"s":200,"v":-15,"w":5},{"s":216,"v":-5,"w":0}],
"iBody":[{"s":0,"e":25,"v":12},{"s":25,"e":60,"v":-6},{"s":60,"e":110,"v":7},{"s":110,"e":150,"v":-8},{"s":150,"e":230,"v":9},{"s":230,"e":268,"v":-8},{"s":268,"e":300,"v":12},{"s":275,"e":290,"v":-28},{"s":279,"e":286,"v":-60},{"s":281,"e":284,"v":-90},{"s":300,"e":345,"v":10},{"s":345,"e":358,"v":-28},{"s":350,"e":355,"v":-55},{"s":358,"e":395,"v":8},{"s":395,"e":403,"v":-22},{"s":403,"e":455,"v":9},{"s":455,"e":465,"v":-25},{"s":465,"e":484,"v":8},{"s":484,"e":492,"v":-22},{"s":492,"e":550,"v":10},{"s":550,"e":610,"v":8},{"s":610,"e":640,"v":-7},{"s":640,"e":652,"v":-22},{"s":652,"e":680,"v":9},{"s":680,"e":695,"v":-25},{"s":695,"e":740,"v":12},{"s":740,"e":800,"v":-8},{"s":800,"e":860,"v":10},{"s":860,"e":960,"v":8},{"s":960,"e":1030,"v":-8},{"s":1030,"e":1050,"v":-20},{"s":1050,"e":1110,"v":10},{"s":1110,"e":1145,"v":-6},{"s":1145,"e":1230,"v":9},{"s":1230,"e":1265,"v":-10},{"s":1265,"e":1330,"v":10},{"s":1330,"e":1360,"v":-10},{"s":1360,"e":1395,"v":-15},{"s":1395,"e":1500,"v":10},{"s":1500,"e":1580,"v":-14},{"s":1580,"e":1650,"v":12},{"s":1650,"e":1700,"v":-12},{"s":1700,"e":1720,"v":-25},{"s":1720,"e":1780,"v":-18},{"s":1780,"e":1820,"v":10},{"s":1820,"e":1870,"v":14},{"s":1870,"e":1950,"v":10},{"s":1950,"e":2010,"v":-6},{"s":2010,"e":2090,"v":8},{"s":2090,"e":2110,"v":-8},{"s":2110,"e":2145,"v":14},{"s":2145,"e":2157,"v":-15}],
"iSpike":[{"s":3,"v":35},{"s":10,"v":52},{"s":17,"v":30},{"s":24,"v":45},{"s":31,"v":38},{"s":38,"v":25},{"s":45,"v":48},{"s":52,"v":55},{"s":59,"v":30},{"s":66,"v":40},{"s":73,"v":28},{"s":80,"v":42},{"s":87,"v":25},{"s":94,"v":38},{"s":101,"v":48},{"s":108,"v":30},{"s":115,"v":22},{"s":122,"v":35},{"s":129,"v":42},{"s":136,"v":28},{"s":143,"v":38},{"s":150,"v":25},{"s":157,"v":48},{"s":164,"v":30},{"s":171,"v":36},{"s":178,"v":22},{"s":185,"v":42},{"s":192,"v":30},{"s":199,"v":25},{"s":206,"v":38},{"s":213,"v":48},{"s":220,"v":30},{"s":227,"v":35},{"s":234,"v":42},{"s":241,"v":28},{"s":248,"v":52},{"s":255,"v":35},{"s":262,"v":42},{"s":269,"v":28},{"s":276,"v":20},{"s":290,"v":30},{"s":297,"v":22},{"s":304,"v":35},{"s":311,"v":42},{"s":318,"v":28},{"s":325,"v":48},{"s":332,"v":35},{"s":339,"v":40},{"s":346,"v":28},{"s":360,"v":35},{"s":367,"v":28},{"s":374,"v":42},{"s":381,"v":30},{"s":388,"v":38},{"s":395,"v":52},{"s":402,"v":32},{"s":409,"v":22},{"s":416,"v":30},{"s":423,"v":24},{"s":430,"v":35},{"s":437,"v":42},{"s":444,"v":28},{"s":451,"v":50},{"s":458,"v":35},{"s":465,"v":55},{"s":472,"v":35},{"s":479,"v":50},{"s":486,"v":38},{"s":493,"v":45},{"s":500,"v":42},{"s":507,"v":55},{"s":514,"v":50},{"s":521,"v":35},{"s":528,"v":55},{"s":535,"v":48},{"s":542,"v":35},{"s":549,"v":45},{"s":556,"v":30},{"s":563,"v":22},{"s":570,"v":28},{"s":577,"v":18},{"s":584,"v":25},{"s":591,"v":22},{"s":598,"v":30},{"s":605,"v":18},{"s":612,"v":25},{"s":619,"v":32},{"s":626,"v":22},{"s":633,"v":20},{"s":640,"v":28},{"s":647,"v":35},{"s":656,"v":62},{"s":663,"v":28},{"s":670,"v":35},{"s":677,"v":22},{"s":684,"v":30},{"s":691,"v":40},{"s":698,"v":32},{"s":705,"v":38},{"s":712,"v":45},{"s":719,"v":28},{"s":726,"v":35},{"s":733,"v":42},{"s":740,"v":48},{"s":747,"v":55},{"s":756,"v":89},{"s":763,"v":45},{"s":770,"v":35},{"s":777,"v":28},{"s":784,"v":42},{"s":791,"v":50},{"s":798,"v":30},{"s":805,"v":38},{"s":812,"v":48},{"s":819,"v":35},{"s":826,"v":55},{"s":830,"v":72},{"s":838,"v":45},{"s":845,"v":60},{"s":852,"v":40},{"s":859,"v":55},{"s":866,"v":72},{"s":873,"v":45},{"s":880,"v":60},{"s":889,"v":87},{"s":896,"v":45},{"s":903,"v":60},{"s":910,"v":40},{"s":917,"v":52},{"s":924,"v":35},{"s":931,"v":65},{"s":938,"v":45},{"s":945,"v":55},{"s":952,"v":38},{"s":961,"v":113},{"s":968,"v":42},{"s":975,"v":30},{"s":982,"v":48},{"s":989,"v":35},{"s":996,"v":25},{"s":1003,"v":42},{"s":1010,"v":30},{"s":1017,"v":20},{"s":1024,"v":28},{"s":1031,"v":18},{"s":1038,"v":25},{"s":1045,"v":22},{"s":1052,"v":30},{"s":1059,"v":25},{"s":1066,"v":35},{"s":1073,"v":45},{"s":1080,"v":30},{"s":1087,"v":42},{"s":1094,"v":25},{"s":1101,"v":35},{"s":1108,"v":48},{"s":1115,"v":30},{"s":1122,"v":22},{"s":1129,"v":35},{"s":1136,"v":28},{"s":1143,"v":40},{"s":1150,"v":25},{"s":1157,"v":32},{"s":1164,"v":42},{"s":1171,"v":28},{"s":1178,"v":35},{"s":1185,"v":45},{"s":1192,"v":30},{"s":1199,"v":38},{"s":1206,"v":50},{"s":1213,"v":35},{"s":1220,"v":87},{"s":1227,"v":40},{"s":1234,"v":32},{"s":1241,"v":48},{"s":1248,"v":35},{"s":1255,"v":55},{"s":1262,"v":40},{"s":1269,"v":50},{"s":1276,"v":62},{"s":1283,"v":42},{"s":1290,"v":55},{"s":1297,"v":38},{"s":1304,"v":50},{"s":1311,"v":60},{"s":1318,"v":70},{"s":1325,"v":42},{"s":1332,"v":55},{"s":1339,"v":40},{"s":1346,"v":50},{"s":1353,"v":35},{"s":1360,"v":48},{"s":1367,"v":40},{"s":1374,"v":52},{"s":1381,"v":30},{"s":1388,"v":45},{"s":1395,"v":55},{"s":1402,"v":40},{"s":1409,"v":50},{"s":1416,"v":60},{"s":1423,"v":35},{"s":1430,"v":48},{"s":1437,"v":38},{"s":1444,"v":52},{"s":1451,"v":32},{"s":1458,"v":45},{"s":1465,"v":55},{"s":1472,"v":38},{"s":1479,"v":60},{"s":1486,"v":45},{"s":1493,"v":30},{"s":1500,"v":48},{"s":1507,"v":35},{"s":1514,"v":50},{"s":1521,"v":30},{"s":1528,"v":45},{"s":1535,"v":35},{"s":1542,"v":55},{"s":1549,"v":40},{"s":1556,"v":48},{"s":1563,"v":60},{"s":1570,"v":45},{"s":1577,"v":35},{"s":1584,"v":50},{"s":1591,"v":42},{"s":1598,"v":30},{"s":1605,"v":48},{"s":1612,"v":35},{"s":1617,"v":68},{"s":1624,"v":30},{"s":1631,"v":45},{"s":1638,"v":25},{"s":1645,"v":55},{"s":1652,"v":35},{"s":1659,"v":60},{"s":1666,"v":40},{"s":1673,"v":58},{"s":1680,"v":45},{"s":1690,"v":65},{"s":1697,"v":55},{"s":1704,"v":35},{"s":1711,"v":25},{"s":1718,"v":42},{"s":1725,"v":30},{"s":1732,"v":45},{"s":1739,"v":35},{"s":1746,"v":25},{"s":1753,"v":42},{"s":1760,"v":30},{"s":1767,"v":38},{"s":1774,"v":28},{"s":1781,"v":35},{"s":1788,"v":48},{"s":1795,"v":30},{"s":1802,"v":40},{"s":1809,"v":28},{"s":1816,"v":45},{"s":1823,"v":35},{"s":1830,"v":50},{"s":1837,"v":38},{"s":1844,"v":30},{"s":1851,"v":45},{"s":1857,"v":40},{"s":1863,"v":58},{"s":1870,"v":45},{"s":1877,"v":32},{"s":1884,"v":42},{"s":1891,"v":35},{"s":1898,"v":28},{"s":1905,"v":40},{"s":1912,"v":50},{"s":1919,"v":35},{"s":1926,"v":42},{"s":1933,"v":30},{"s":1940,"v":45},{"s":1947,"v":35},{"s":1954,"v":28},{"s":1961,"v":48},{"s":1968,"v":55},{"s":1975,"v":40},{"s":1982,"v":30},{"s":1989,"v":42},{"s":1996,"v":35},{"s":2003,"v":48},{"s":2010,"v":40},{"s":2017,"v":52},{"s":2024,"v":35},{"s":2031,"v":42},{"s":2038,"v":30},{"s":2045,"v":48},{"s":2052,"v":38},{"s":2059,"v":30},{"s":2066,"v":42},{"s":2073,"v":35},{"s":2080,"v":28},{"s":2087,"v":40},{"s":2094,"v":30},{"s":2101,"v":38},{"s":2108,"v":45},{"s":2115,"v":35},{"s":2125,"v":50},{"s":2132,"v":42},{"s":2139,"v":28},{"s":2146,"v":48},{"s":2153,"v":40},{"s":6,"v":-25},{"s":13,"v":-35},{"s":20,"v":-18},{"s":27,"v":-30},{"s":34,"v":-42},{"s":41,"v":-22},{"s":48,"v":-50},{"s":55,"v":-30},{"s":62,"v":-58},{"s":69,"v":-25},{"s":76,"v":-40},{"s":83,"v":-72},{"s":90,"v":-45},{"s":97,"v":-62},{"s":104,"v":-28},{"s":111,"v":-35},{"s":118,"v":-50},{"s":125,"v":-30},{"s":132,"v":-40},{"s":139,"v":-22},{"s":146,"v":-48},{"s":153,"v":-35},{"s":160,"v":-52},{"s":167,"v":-38},{"s":174,"v":-28},{"s":181,"v":-45},{"s":188,"v":-60},{"s":195,"v":-35},{"s":202,"v":-50},{"s":209,"v":-30},{"s":216,"v":-55},{"s":223,"v":-40},{"s":230,"v":-62},{"s":237,"v":-30},{"s":244,"v":-45},{"s":251,"v":-58},{"s":258,"v":-35},{"s":265,"v":-25},{"s":282,"v":-117},{"s":296,"v":-45},{"s":303,"v":-25},{"s":310,"v":-35},{"s":317,"v":-20},{"s":324,"v":-30},{"s":331,"v":-40},{"s":338,"v":-28},{"s":352,"v":-95},{"s":362,"v":-45},{"s":369,"v":-60},{"s":376,"v":-30},{"s":383,"v":-20},{"s":390,"v":-38},{"s":399,"v":-77},{"s":407,"v":-30},{"s":414,"v":-18},{"s":421,"v":-40},{"s":428,"v":-25},{"s":435,"v":-35},{"s":442,"v":-20},{"s":449,"v":-30},{"s":460,"v":-100},{"s":470,"v":-45},{"s":477,"v":-60},{"s":487,"v":-70},{"s":497,"v":-35},{"s":504,"v":-45},{"s":511,"v":-25},{"s":518,"v":-38},{"s":525,"v":-50},{"s":532,"v":-30},{"s":539,"v":-42},{"s":546,"v":-62},{"s":553,"v":-35},{"s":560,"v":-45},{"s":567,"v":-28},{"s":574,"v":-18},{"s":581,"v":-30},{"s":588,"v":-42},{"s":595,"v":-22},{"s":602,"v":-35},{"s":609,"v":-18},{"s":616,"v":-30},{"s":623,"v":-40},{"s":630,"v":-25},{"s":637,"v":-35},{"s":645,"v":-87},{"s":653,"v":-45},{"s":660,"v":-30},{"s":667,"v":-50},{"s":674,"v":-38},{"s":681,"v":-55},{"s":689,"v":-87},{"s":697,"v":-50},{"s":704,"v":-68},{"s":711,"v":-40},{"s":718,"v":-55},{"s":725,"v":-35},{"s":732,"v":-60},{"s":739,"v":-42},{"s":746,"v":-50},{"s":753,"v":-35},{"s":760,"v":-62},{"s":767,"v":-45},{"s":774,"v":-55},{"s":781,"v":-35},{"s":788,"v":-48},{"s":795,"v":-30},{"s":802,"v":-42},{"s":809,"v":-55},{"s":816,"v":-38},{"s":823,"v":-50},{"s":835,"v":-85},{"s":842,"v":-55},{"s":849,"v":-62},{"s":856,"v":-70},{"s":863,"v":-50},{"s":870,"v":-65},{"s":877,"v":-45},{"s":884,"v":-60},{"s":891,"v":-73},{"s":898,"v":-55},{"s":905,"v":-45},{"s":912,"v":-60},{"s":919,"v":-38},{"s":926,"v":-50},{"s":935,"v":-79},{"s":942,"v":-55},{"s":949,"v":-65},{"s":956,"v":-40},{"s":963,"v":-55},{"s":970,"v":-70},{"s":977,"v":-45},{"s":984,"v":-38},{"s":991,"v":-55},{"s":998,"v":-30},{"s":1005,"v":-42},{"s":1012,"v":-35},{"s":1019,"v":-50},{"s":1025,"v":-68},{"s":1032,"v":-30},{"s":1048,"v":-74},{"s":1055,"v":-25},{"s":1062,"v":-35},{"s":1069,"v":-20},{"s":1076,"v":-68},{"s":1083,"v":-30},{"s":1090,"v":-45},{"s":1097,"v":-28},{"s":1104,"v":-50},{"s":1111,"v":-35},{"s":1118,"v":-60},{"s":1125,"v":-30},{"s":1132,"v":-48},{"s":1139,"v":-65},{"s":1146,"v":-35},{"s":1153,"v":-50},{"s":1160,"v":-28},{"s":1167,"v":-42},{"s":1174,"v":-60},{"s":1181,"v":-35},{"s":1188,"v":-50},{"s":1195,"v":-30},{"s":1202,"v":-42},{"s":1209,"v":-55},{"s":1216,"v":-35},{"s":1223,"v":-68},{"s":1230,"v":-40},{"s":1237,"v":-52},{"s":1244,"v":-35},{"s":1251,"v":-60},{"s":1258,"v":-45},{"s":1265,"v":-70},{"s":1272,"v":-42},{"s":1279,"v":-55},{"s":1286,"v":-75},{"s":1293,"v":-45},{"s":1300,"v":-60},{"s":1307,"v":-40},{"s":1314,"v":-52},{"s":1321,"v":-70},{"s":1328,"v":-45},{"s":1335,"v":-65},{"s":1342,"v":-40},{"s":1349,"v":-60},{"s":1356,"v":-70},{"s":1363,"v":-45},{"s":1370,"v":-65},{"s":1377,"v":-78},{"s":1384,"v":-55},{"s":1391,"v":-62},{"s":1398,"v":-35},{"s":1405,"v":-48},{"s":1412,"v":-60},{"s":1419,"v":-30},{"s":1426,"v":-45},{"s":1433,"v":-55},{"s":1440,"v":-35},{"s":1447,"v":-48},{"s":1454,"v":-60},{"s":1461,"v":-30},{"s":1468,"v":-50},{"s":1475,"v":-40},{"s":1482,"v":-65},{"s":1489,"v":-35},{"s":1496,"v":-55},{"s":1503,"v":-45},{"s":1510,"v":-62},{"s":1517,"v":-40},{"s":1524,"v":-50},{"s":1531,"v":-68},{"s":1538,"v":-45},{"s":1545,"v":-55},{"s":1552,"v":-40},{"s":1559,"v":-60},{"s":1566,"v":-48},{"s":1573,"v":-35},{"s":1580,"v":-45},{"s":1587,"v":-30},{"s":1594,"v":-40},{"s":1601,"v":-25},{"s":1608,"v":-35},{"s":1617,"v":-91},{"s":1623,"v":-30},{"s":1630,"v":-40},{"s":1637,"v":-22},{"s":1644,"v":-35},{"s":1651,"v":-25},{"s":1658,"v":-45},{"s":1665,"v":-30},{"s":1672,"v":-38},{"s":1679,"v":-50},{"s":1686,"v":-30},{"s":1693,"v":-55},{"s":1700,"v":-45},{"s":1707,"v":-77},{"s":1714,"v":-50},{"s":1721,"v":-40},{"s":1728,"v":-65},{"s":1735,"v":-45},{"s":1742,"v":-55},{"s":1749,"v":-35},{"s":1756,"v":-50},{"s":1763,"v":-62},{"s":1771,"v":-97},{"s":1778,"v":-50},{"s":1785,"v":-35},{"s":1792,"v":-45},{"s":1799,"v":-28},{"s":1806,"v":-40},{"s":1813,"v":-30},{"s":1820,"v":-25},{"s":1827,"v":-38},{"s":1838,"v":-50},{"s":1845,"v":-32},{"s":1852,"v":-45},{"s":1859,"v":-28},{"s":1870,"v":-49},{"s":1878,"v":-30},{"s":1885,"v":-42},{"s":1892,"v":-25},{"s":1899,"v":-38},{"s":1906,"v":-48},{"s":1913,"v":-30},{"s":1920,"v":-40},{"s":1927,"v":-52},{"s":1934,"v":-28},{"s":1941,"v":-38},{"s":1948,"v":-45},{"s":1955,"v":-25},{"s":1962,"v":-40},{"s":1969,"v":-30},{"s":1976,"v":-50},{"s":1983,"v":-35},{"s":1990,"v":-45},{"s":1997,"v":-58},{"s":2004,"v":-38},{"s":2011,"v":-50},{"s":2018,"v":-35},{"s":2025,"v":-48},{"s":2031,"v":-65},{"s":2038,"v":-40},{"s":2045,"v":-30},{"s":2052,"v":-45},{"s":2059,"v":-35},{"s":2066,"v":-52},{"s":2073,"v":-30},{"s":2080,"v":-45},{"s":2087,"v":-58},{"s":2094,"v":-35},{"s":2101,"v":-50},{"s":2108,"v":-62},{"s":2115,"v":-35},{"s":2122,"v":-48},{"s":2129,"v":-30},{"s":2136,"v":-55},{"s":2143,"v":-35},{"s":2150,"v":-45},{"s":2156,"v":-89}]
},
"encoding":{"theta":{"field":"s","type":"quantitative","scale":{"type":"linear","domain":[0,2157],"range":[0,6.283185]},"stack":null}},
"layer":[
{"data":{"name":"bands"},"mark":{"type":"arc","stroke":"#000000","strokeWidth":1},"encoding":{"theta2":{"field":"e"},"radius":{"datum":975,"type":"quantitative","scale":{"type":"linear","domain":[0,1000],"range":[0,1000]}},"radius2":{"datum":927},"fill":{"field":"b","type":"nominal","legend":null,"scale":{"domain":["l","m","d","k"],"range":["#f0f0f0","#bdbdbd","#636363","#000000"]}}}},
{"data":{"name":"zero"},"mark":{"type":"arc","stroke":"#000000","strokeWidth":2.5},"encoding":{"theta2":{"field":"s"},"radius":{"datum":975,"type":"quantitative","scale":{"type":"linear","domain":[0,1000],"range":[0,1000]}},"radius2":{"datum":927}}},
{"data":{"name":"minor"},"mark":{"type":"arc","stroke":"#000000","strokeWidth":1.5},"encoding":{"theta2":{"field":"s"},"radius":{"datum":981,"type":"quantitative","scale":{"type":"linear","domain":[0,1000],"range":[0,1000]}},"radius2":{"datum":975}}},
{"data":{"name":"labelsR"},"mark":{"type":"arc","stroke":"#000000","strokeWidth":2},"encoding":{"theta2":{"field":"s"},"radius":{"datum":990,"type":"quantitative","scale":{"type":"linear","domain":[0,1000],"range":[0,1000]}},"radius2":{"datum":975}}},
{"data":{"name":"labelsL"},"mark":{"type":"arc","stroke":"#000000","strokeWidth":2},"encoding":{"theta2":{"field":"s"},"radius":{"datum":990,"type":"quantitative","scale":{"type":"linear","domain":[0,1000],"range":[0,1000]}},"radius2":{"datum":975}}},
{"data":{"name":"geneO"},"mark":{"type":"arc","fill":"#a6a6a6"},"encoding":{"theta2":{"field":"e"},"radius":{"datum":909,"type":"quantitative","scale":{"type":"linear","domain":[0,1000],"range":[0,1000]}},"radius2":{"datum":889}}},
{"data":{"name":"geneI"},"mark":{"type":"arc","fill":"#a6a6a6"},"encoding":{"theta2":{"field":"e"},"radius":{"datum":889,"type":"quantitative","scale":{"type":"linear","domain":[0,1000],"range":[0,1000]}},"radius2":{"datum":868}}},
{"data":{"name":"geneR"},"mark":{"type":"arc","fill":"#fb6a4a"},"encoding":{"theta2":{"field":"e"},"radius":{"datum":909,"type":"quantitative","scale":{"type":"linear","domain":[0,1000],"range":[0,1000]}},"radius2":{"datum":889}}},
{"data":{"name":"blocks"},"mark":{"type":"arc"},"encoding":{"theta2":{"field":"e"},"radius":{"datum":853,"type":"quantitative","scale":{"type":"linear","domain":[0,1000],"range":[0,1000]}},"radius2":{"datum":815},"fill":{"field":"c","type":"nominal","legend":null,"scale":{"domain":["a","b"],"range":["#084081","#0868ac"]}}}},
{"data":{"name":"oBody"},"mark":{"type":"arc"},"encoding":{"theta2":{"field":"e"},"radius":{"field":"v","type":"quantitative","scale":{"type":"linear","domain":[-100,100],"range":[565,765]}},"radius2":{"datum":0},"fill":{"condition":{"test":"datum.v<0","value":"#fc9272"},"value":"#9ecae1"}}},
{"data":{"name":"oSpike"},"mark":{"type":"arc","strokeWidth":9},"encoding":{"theta2":{"field":"s"},"radius":{"field":"v","type":"quantitative","scale":{"type":"linear","domain":[-100,100],"range":[640,690]}},"radius2":{"datum":0},"stroke":{"condition":{"test":"datum.v<0","value":"#fc9272"},"value":"#9ecae1"}}},
{"data":{"name":"oSpike"},"mark":{"type":"arc","strokeWidth":5},"encoding":{"theta2":{"field":"s"},"radius":{"field":"v","type":"quantitative","scale":{"type":"linear","domain":[-100,100],"range":[615,715]}},"radius2":{"datum":0},"stroke":{"condition":{"test":"datum.v<0","value":"#fb7d5e"},"value":"#8dc0dc"}}},
{"data":{"name":"oSpike"},"mark":{"type":"arc","strokeWidth":2.2},"encoding":{"theta2":{"field":"s"},"radius":{"field":"v","type":"quantitative","scale":{"type":"linear","domain":[-100,100],"range":[565,765]}},"radius2":{"datum":0},"stroke":{"condition":{"test":"datum.v<0","value":"#fb6a4a"},"value":"#6baed6"}}},
{"data":{"name":"oBlack"},"mark":{"type":"arc","stroke":"#000000","strokeWidth":2.5},"encoding":{"theta2":{"field":"s"},"radius":{"field":"v","type":"quantitative","scale":{"type":"linear","domain":[-100,100],"range":[565,765]}},"radius2":{"field":"w"}}},
{"data":{"name":"iBody"},"mark":{"type":"arc"},"encoding":{"theta2":{"field":"e"},"radius":{"field":"v","type":"quantitative","scale":{"type":"linear","domain":[-100,100],"range":[342,542]}},"radius2":{"datum":0},"fill":{"condition":{"test":"datum.v<0","value":"#a1d99b"},"value":"#9ecae1"}}},
{"data":{"name":"iSpike"},"mark":{"type":"arc","strokeWidth":7},"encoding":{"theta2":{"field":"s"},"radius":{"field":"v","type":"quantitative","scale":{"type":"linear","domain":[-100,100],"range":[417,467]}},"radius2":{"datum":0},"stroke":{"condition":{"test":"datum.v<0","value":"#a1d99b"},"value":"#9ecae1"}}},
{"data":{"name":"iSpike"},"mark":{"type":"arc","strokeWidth":4},"encoding":{"theta2":{"field":"s"},"radius":{"field":"v","type":"quantitative","scale":{"type":"linear","domain":[-100,100],"range":[392,492]}},"radius2":{"datum":0},"stroke":{"condition":{"test":"datum.v<0","value":"#8bcf87"},"value":"#8dc0dc"}}},
{"data":{"name":"iSpike"},"mark":{"type":"arc","strokeWidth":2},"encoding":{"theta2":{"field":"s"},"radius":{"field":"v","type":"quantitative","scale":{"type":"linear","domain":[-100,100],"range":[342,542]}},"radius2":{"datum":0},"stroke":{"condition":{"test":"datum.v<0","value":"#74c476"},"value":"#6baed6"}}},
{"data":{"name":"labelsR"},"mark":{"type":"text","align":"left","baseline":"middle","font":"Roboto","fontSize":44,"fontWeight":500,"color":"#000000"},"encoding":{"radius":{"datum":1003,"type":"quantitative","scale":{"type":"linear","domain":[0,2000],"range":[0,2000]}},"angle":{"field":"s","type":"quantitative","scale":{"type":"linear","domain":[0,2157],"range":[-90,270]}},"text":{"field":"t"}}},
{"data":{"name":"labelsL"},"mark":{"type":"text","align":"right","baseline":"middle","font":"Roboto","fontSize":44,"fontWeight":500,"color":"#000000"},"encoding":{"radius":{"datum":1003,"type":"quantitative","scale":{"type":"linear","domain":[0,2000],"range":[0,2000]}},"angle":{"field":"s","type":"quantitative","scale":{"type":"linear","domain":[0,2157],"range":[90,450]}},"text":{"field":"t"}}}
],
"resolve":{"scale":{"radius":"independent","fill":"independent","angle":"independent"}},
"config":{"view":{"stroke":null}}}
